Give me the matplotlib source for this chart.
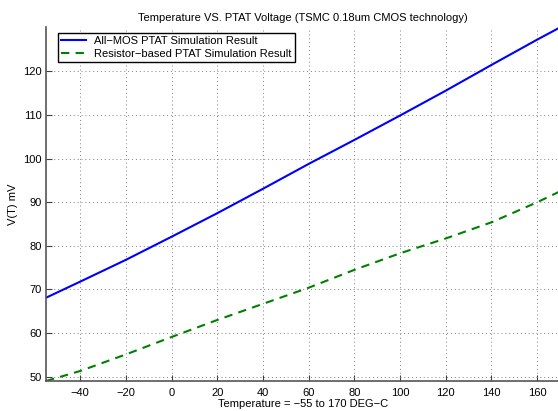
import matplotlib.pyplot as plt

plt.rcParams['font.family'] = ['Liberation Sans', 'DejaVu Sans']

temp = [-55, -40, -20, 0, 20, 40, 60, 80, 100, 120, 140, 160, 170]
v_mos = [68.1, 71.8, 76.8, 82.1, 87.5, 93.1, 98.8, 104.3, 109.9, 115.6, 121.5, 127.3, 130.1]
v_res = [49.0, 51.3, 55.1, 59.1, 63.0, 66.7, 70.4, 74.5, 78.3, 81.7, 85.4, 90.0, 92.5]

xticks = [-40, -20, 0, 20, 40, 60, 80, 100, 120, 140, 160]
yticks = [50, 60, 70, 80, 90, 100, 110, 120]

fig = plt.figure(figsize=(5.58, 4.11), dpi=100)
ax = fig.add_axes([46/558, 30/411, 514/558, 354/411])

ax.plot(temp, v_mos, color='#0000ff', lw=1.5, label='All\u2212MOS PTAT Simulation Result')
ax.plot(temp, v_res, color='#008000', lw=1.5, dashes=(4, 3),
        label='Resistor\u2212based PTAT Simulation Result')

ax.set_xlim(-55, 170)
ax.set_ylim(49, 130.2)
ax.set_xticks(xticks)
ax.set_yticks(yticks)
ax.tick_params(direction='in', length=4, labelsize=8, color='#404040', pad=3)
ax.tick_params(axis='x', pad=5)
ax.grid(True, linestyle=(0, (1, 3)), color='#808080', lw=0.7)

for s in ['top', 'right']:
    ax.spines[s].set_visible(False)
for s in ['left', 'bottom']:
    ax.spines[s].set_color('#555555')
    ax.spines[s].set_linewidth(1.2)

ax.set_title('Temperature VS. PTAT Voltage (TSMC 0.18um CMOS technology)', fontsize=8, pad=4)
ax.set_xlabel('Temperature = \u221255 to 170 DEG\u2212C', fontsize=8, labelpad=1)
ax.set_ylabel('V(T) mV', fontsize=8, labelpad=4)

leg = ax.legend(loc='upper left', fontsize=8, fancybox=False, framealpha=1,
                edgecolor='black', handlelength=2.2, borderpad=0.3,
                labelspacing=0.2, borderaxespad=0, bbox_to_anchor=(0.023, 0.983))
leg.get_frame().set_linewidth(1.0)

fig.savefig('out.png', dpi=100)
